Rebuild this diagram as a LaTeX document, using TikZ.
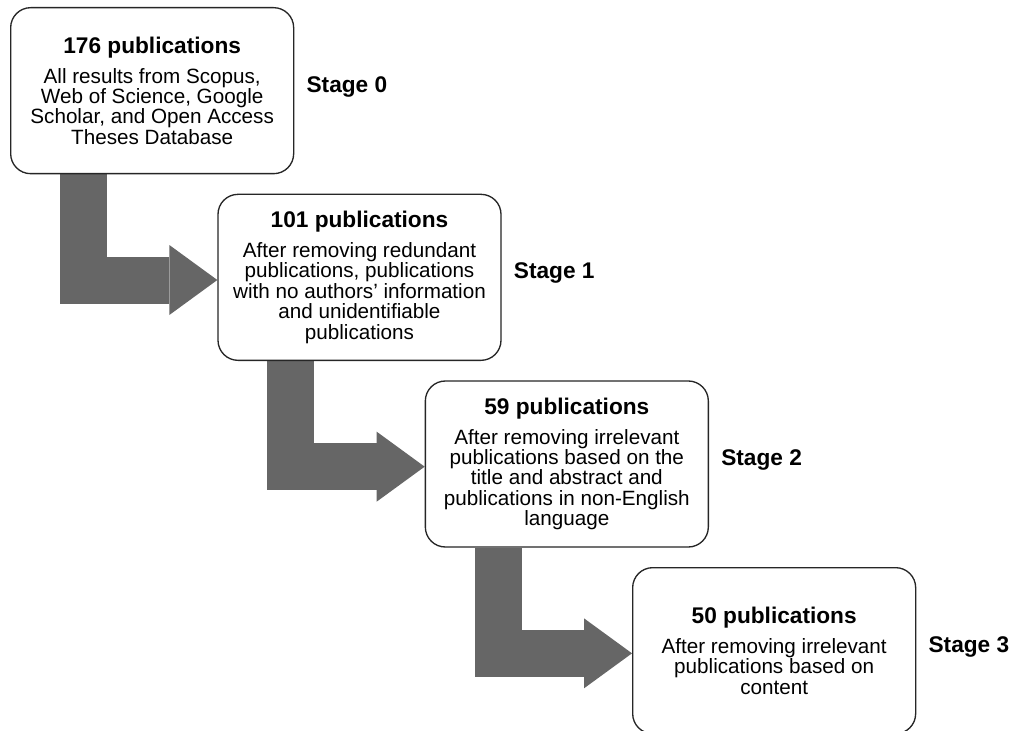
\documentclass[tikz,border=0pt]{standalone}
\usepackage{fontspec}
\setmainfont{Liberation Sans}
\usetikzlibrary{arrows.meta, positioning, backgrounds}
\definecolor{flowGray}{HTML}{666666}
\definecolor{boxLine} {HTML}{262626}
\newcommand{\pubtitlefont}{\fontsize{17}{20}\selectfont\bfseries}
\tikzset{
  pubbox/.style = {rectangle, rounded corners=15pt, draw=boxLine, fill=white,
                   line width=1pt, align=center, inner sep=0pt,
                   minimum width=212.25pt, minimum height=124.5pt,
                   font=\fontsize{15.5}{15.3}\selectfont},
  stagelabel/.style = {inner sep=0pt, font=\pubtitlefont},
  flow/.style = {draw=flowGray, line width=35.25pt,
                 -{Triangle[length=36pt, width=52.5pt, line width=0pt]}},
}

\begin{document}
\begin{tikzpicture}

\useasboundingbox (0,0) rectangle (760.5pt,-548.25pt);

\node[pubbox, anchor=north west] (p0) at (7.5pt,-5.25pt)
  {{\pubtitlefont 176 publications}\\[7pt]
   All results from Scopus,\\ Web of Science, Google\\
   Scholar, and Open Access\\ Theses Database};
\node[pubbox, below=14.5pt of p0, xshift=155.5pt] (p1)
  {{\pubtitlefont 101 publications}\\[7pt]
   After removing redundant\\ publications, publications\\
   with no authors’ information\\ and unidentifiable\\ publications};
\node[pubbox, below=14.5pt of p1, xshift=155.5pt] (p2)
  {{\pubtitlefont 59 publications}\\[7pt]
   After removing irrelevant\\ publications based on the\\
   title and abstract and\\ publications in non-English\\ language};
\node[pubbox, below=14.5pt of p2, xshift=155.5pt] (p3)
  {{\pubtitlefont 50 publications}\\[7pt]
   After removing irrelevant\\ publications based on\\ content};

\node[stagelabel, right=9pt of p0, yshift=3pt] (s0) {Stage 0};
\node[stagelabel, right=9pt of p1, yshift=3pt] (s1) {Stage 1};
\node[stagelabel, right=9pt of p2, yshift=3pt] (s2) {Stage 2};
\node[stagelabel, right=9pt of p3, yshift=3pt] (s3) {Stage 3};

\begin{scope}[on background layer]
\draw[flow] ([xshift=55pt]p0.south west) |- ([yshift=-2pt]p1.west);
\draw[flow] ([xshift=55pt]p1.south west) |- ([yshift=-2pt]p2.west);
\draw[flow] ([xshift=55pt]p2.south west) |- ([yshift=-2pt]p3.west);
\end{scope}

\end{tikzpicture}
\end{document}
